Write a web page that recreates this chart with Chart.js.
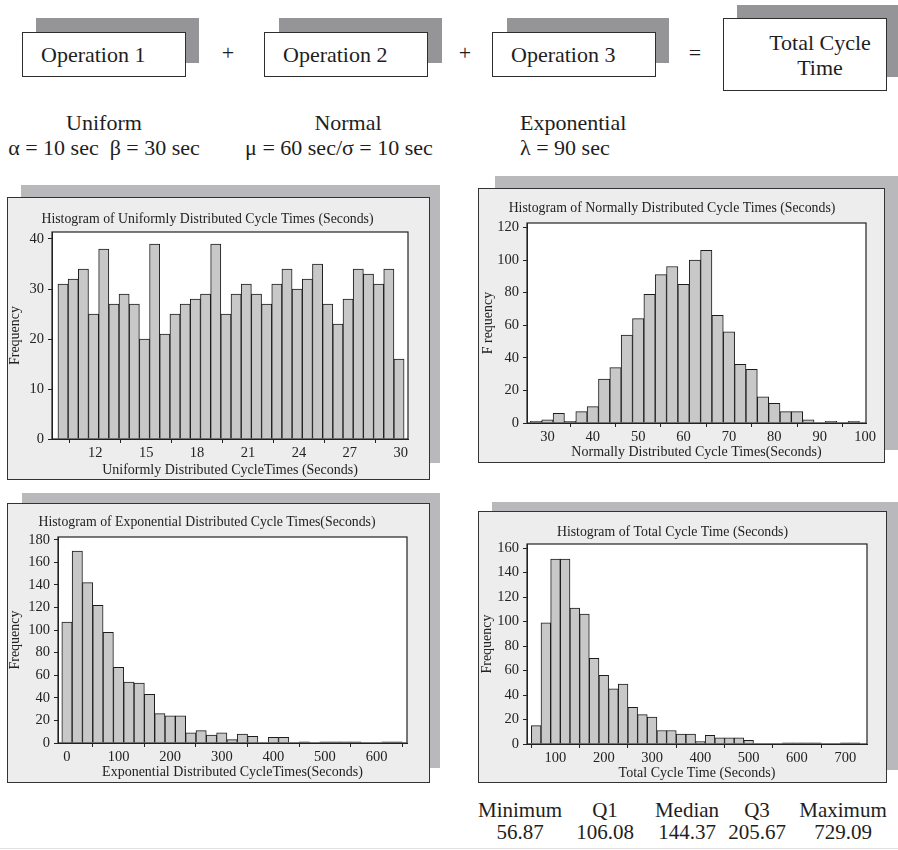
<!DOCTYPE html>
<html>
<head>
<meta charset="utf-8">
<script src="https://cdn.jsdelivr.net/npm/chart.js@4.4.1/dist/chart.umd.min.js"></script>
<style>
body { margin: 0; background: #fff; }
#page { position: relative; width: 898px; height: 850px; overflow: hidden; font-family: 'Liberation Serif', 'Times New Roman', serif; color: #1e1e1e; }
.opShadow { position: absolute; background: #959598; }
.opBox { position: absolute; background: #fff; border: 1.5px solid #2e2e2e; box-sizing: border-box; font-size: 22px; white-space: nowrap; }
.panelShadow { position: absolute; background: #b9b9bc; }
.panel { position: absolute; background: #ededed; border: 1.5px solid #333; box-sizing: border-box; }
canvas { position: absolute; }
.lbl { position: absolute; font-size: 22px; white-space: nowrap; line-height: 25px; }
.c { text-align: center; width: 240px; }
.stat { position: absolute; font-size: 21px; white-space: nowrap; width: 120px; text-align: center; line-height: 22px; }
</style>
</head>
<body>
<div id="page">
  <!-- flow boxes -->
  <div class="opShadow" style="left:36px;top:18px;width:163px;height:45px"></div>
  <div class="opBox" style="left:22px;top:32px;width:164px;height:45px;line-height:44px;padding-left:18px">Operation 1</div>
  <div class="lbl c" style="left:108px;top:40px">+</div>

  <div class="opShadow" style="left:279px;top:18px;width:163px;height:45px"></div>
  <div class="opBox" style="left:264px;top:32px;width:164px;height:45px;line-height:44px;padding-left:18px">Operation 2</div>
  <div class="lbl c" style="left:345px;top:40px">+</div>

  <div class="opShadow" style="left:507px;top:18px;width:162px;height:45px"></div>
  <div class="opBox" style="left:492px;top:32px;width:164px;height:45px;line-height:44px;padding-left:18px">Operation 3</div>
  <div class="lbl c" style="left:575px;top:40px">=</div>

  <div class="opShadow" style="left:737px;top:5px;width:161px;height:72px"></div>
  <div class="opBox" style="left:723px;top:18px;width:164px;height:73px"></div>
  <div class="lbl c" style="left:700px;top:30px">Total Cycle<br>Time</div>

  <div class="lbl c" style="left:-16px;top:110px">Uniform</div>
  <div class="lbl c" style="left:-16px;top:135px">α = 10 sec&nbsp; β = 30 sec</div>
  <div class="lbl c" style="left:228px;top:110px">Normal</div>
  <div class="lbl c" style="left:219px;top:135px">μ = 60 sec/σ = 10 sec</div>
  <div class="lbl" style="left:520px;top:110px">Exponential</div>
  <div class="lbl" style="left:520px;top:135px">λ = 90 sec</div>

  <!-- histogram panels -->
  <div class="panelShadow" style="left:21px;top:185px;width:419px;height:278px"></div>
  <div class="panel" style="left:7px;top:197px;width:423px;height:283px"></div>
  <canvas id="uniformChart" width="423" height="283" style="left:7px;top:197px"></canvas>

  <div class="panelShadow" style="left:495px;top:176px;width:403px;height:274px"></div>
  <div class="panel" style="left:478px;top:188px;width:407px;height:275px"></div>
  <canvas id="normalChart" width="407" height="275" style="left:478px;top:188px"></canvas>

  <div class="panelShadow" style="left:22px;top:493px;width:418px;height:275px"></div>
  <div class="panel" style="left:7px;top:503px;width:423px;height:280px"></div>
  <canvas id="expoChart" width="423" height="280" style="left:7px;top:503px"></canvas>

  <div class="panelShadow" style="left:492px;top:502px;width:406px;height:268px"></div>
  <div class="panel" style="left:478px;top:511px;width:409px;height:272px"></div>
  <canvas id="totalChart" width="409" height="272" style="left:478px;top:511px"></canvas>

  <div id="stats"></div>
  <div style="position:absolute;left:0;top:848px;width:898px;height:1px;background:#e2e2e2"></div>
</div>

<script>
// bin centres and counts
const uniformCenters = [10.1, 10.7, 11.3, 11.9, 12.5, 13.1, 13.7, 14.3, 14.9, 15.5, 16.1, 16.7, 17.3, 17.9, 18.5, 19.1, 19.7,
                        20.3, 20.9, 21.5, 22.1, 22.7, 23.3, 23.9, 24.5, 25.1, 25.7, 26.3, 26.9, 27.5, 28.1, 28.7, 29.3, 29.9];
const uniformFreq = [31, 32, 34, 25, 38, 27, 29, 27, 20, 39, 21, 25, 27, 28, 29, 39, 25,
                     29, 31, 29, 27, 31, 34, 30, 32, 35, 27, 23, 28, 34, 33, 31, 34, 16];
const uniformXTicks = [12, 15, 18, 21, 24, 27, 30];
const uniformYTicks = [0, 10, 20, 30, 40];

const normalCenters = [27.5, 30, 32.5, 35, 37.5, 40, 42.5, 45, 47.5, 50, 52.5, 55, 57.5, 60, 62.5,
                       65, 67.5, 70, 72.5, 75, 77.5, 80, 82.5, 85, 87.5, 90, 92.5, 95, 97.5];
const normalFreq = [1, 2, 6, 1, 7, 10, 27, 34, 54, 64, 79, 91, 96, 85, 100,
                    106, 66, 56, 36, 33, 16, 12, 7, 7, 2, 0, 1, 0, 1];
const normalXTicks = [30, 40, 50, 60, 70, 80, 90, 100];
const normalYTicks = [0, 20, 40, 60, 80, 100, 120];

const expoCenters = [0, 20, 40, 60, 80, 100, 120, 140, 160, 180, 200, 220, 240, 260, 280, 300, 320,
                     340, 360, 380, 400, 420, 440, 460, 480, 500, 520, 540, 560, 580, 600, 620, 640];
const expoFreq = [107, 170, 142, 122, 98, 67, 54, 53, 43, 26, 24, 24, 9, 11, 7, 9, 3,
                  8, 6, 0, 5, 5, 0, 1, 0, 1, 1, 1, 1, 0, 0, 1, 1];
const expoXTicks = [0, 100, 200, 300, 400, 500, 600];
const expoYTicks = [0, 20, 40, 60, 80, 100, 120, 140, 160, 180];

const totalCenters = [60, 80, 100, 120, 140, 160, 180, 200, 220, 240, 260, 280, 300, 320, 340, 360, 380,
                      400, 420, 440, 460, 480, 500, 520, 540, 560, 580, 600, 620, 640, 660, 680, 700, 720];
const totalFreq = [15, 99, 151, 151, 111, 106, 70, 56, 45, 49, 30, 24, 22, 11, 11, 8, 8,
                   2, 7, 5, 5, 5, 3, 0, 0, 0, 1, 1, 1, 1, 0, 0, 1, 1];
const totalXTicks = [100, 200, 300, 400, 500, 600, 700];
const totalYTicks = [0, 20, 40, 60, 80, 100, 120, 140, 160];

const statNames = ['Minimum', 'Q1', 'Median', 'Q3', 'Maximum'];
const statValues = ['56.87', '106.08', '144.37', '205.67', '729.09'];

const serif = "'Liberation Serif', 'Times New Roman', serif";
Chart.defaults.font.family = serif;
Chart.defaults.color = '#222';

const TITLE_SIZE = 13.8, AXIS_SIZE = 14, TICK_SIZE = 14.5;

// white plot area with a box round it
const plotFrame = {
    id: 'plotFrame',
    beforeDraw(chart) {
        const { ctx, chartArea: a } = chart;
        ctx.save();
        ctx.fillStyle = '#fff';
        ctx.fillRect(a.left, a.top, a.right - a.left, a.bottom - a.top);
        ctx.restore();
    },
    afterDraw(chart) {
        const { ctx, chartArea: a } = chart;
        ctx.save();
        ctx.strokeStyle = '#222';
        ctx.lineWidth = 1.2;
        ctx.strokeRect(a.left, a.top, a.right - a.left, a.bottom - a.top);
        ctx.restore();
    }
};

function makeHist(id, centers, freq, xTicks, yTicks, o) {
    const canvas = document.getElementById(id);
    const W = canvas.width, H = canvas.height;
    const [L, T, R, B] = o.area;
    const th = TITLE_SIZE * 0.6, ah = AXIS_SIZE * 0.6;
    const axisGrid = { display: true, drawOnChartArea: false, drawTicks: true, tickLength: 4, color: '#222' };
    return new Chart(canvas, {
        type: 'bar',
        data: {
            datasets: [{
                data: centers.map((c, i) => ({ x: c, y: freq[i] })),
                backgroundColor: '#c8c8c9',
                borderColor: '#1c1c1c',
                borderWidth: 1,
                barPercentage: 1,
                categoryPercentage: 1
            }]
        },
        options: {
            responsive: false,
            animation: false,
            layout: { padding: { left: 0, right: W - R, top: 0, bottom: 0 } },
            plugins: {
                legend: { display: false },
                tooltip: { enabled: false },
                title: {
                    display: true, text: o.title, color: '#222',
                    font: { size: TITLE_SIZE, weight: 'normal', lineHeight: 1.2 },
                    padding: { top: o.titleY - th, bottom: T - o.titleY - th }
                }
            },
            scales: {
                x: {
                    type: 'linear', offset: false, min: o.xMin, max: o.xMax,
                    afterBuildTicks: s => { s.ticks = xTicks.map(v => ({ value: v })); },
                    afterFit: s => { s.height = H - B; },
                    grid: axisGrid,
                    border: { display: true, color: '#222', width: 1 },
                    ticks: { padding: 1, autoSkip: false, maxRotation: 0, font: { size: TICK_SIZE }, color: '#222' },
                    title: { display: true, text: o.xTitle, color: '#222', font: { size: AXIS_SIZE, lineHeight: 1.2 },
                             padding: { top: 0, bottom: Math.max(0, H - o.xTitleY - ah) } }
                },
                y: {
                    min: 0, max: o.yMax,
                    afterBuildTicks: s => { s.ticks = yTicks.map(v => ({ value: v })); },
                    afterFit: s => { s.width = L; },
                    grid: axisGrid,
                    border: { display: true, color: '#222', width: 1 },
                    ticks: { padding: 4, font: { size: TICK_SIZE }, color: '#222' },
                    title: { display: true, text: o.yTitle, color: '#222', font: { size: AXIS_SIZE, lineHeight: 1.2 },
                             padding: { top: Math.max(0, o.yTitleX - ah), bottom: 0 } }
                }
            }
        },
        plugins: [plotFrame]
    });
}

makeHist('uniformChart', uniformCenters, uniformFreq, uniformXTicks, uniformYTicks, {
    area: [45, 35, 401, 242], titleY: 22, xTitleY: 273, yTitleX: 8,
    xMin: 9.45, xMax: 30.43, yMax: 41.4,
    title: 'Histogram of Uniformly Distributed Cycle Times (Seconds)',
    xTitle: 'Uniformly Distributed CycleTimes (Seconds)', yTitle: 'Frequency'
});

makeHist('normalChart', normalCenters, normalFreq, normalXTicks, normalYTicks, {
    area: [49, 35, 388, 235], titleY: 20, xTitleY: 264, yTitleX: 10,
    xMin: 25.5, xMax: 100.2, yMax: 122.7,
    title: 'Histogram of Normally Distributed Cycle Times (Seconds)',
    xTitle: 'Normally Distributed Cycle Times(Seconds)', yTitle: 'F requency'
});

makeHist('expoChart', expoCenters, expoFreq, expoXTicks, expoYTicks, {
    area: [51, 34, 400, 240], titleY: 19, xTitleY: 269, yTitleX: 7,
    xMin: -17.4, xMax: 659, yMax: 182.4,
    title: 'Histogram of Exponential Distributed Cycle Times(Seconds)',
    xTitle: 'Exponential Distributed CycleTimes(Seconds)', yTitle: 'Frequency'
});

makeHist('totalChart', totalCenters, totalFreq, totalXTicks, totalYTicks, {
    area: [49, 33, 389, 233], titleY: 21, xTitleY: 262, yTitleX: 9,
    xMin: 41, xMax: 745, yMax: 163.3,
    title: 'Histogram of Total Cycle Time (Seconds)',
    xTitle: 'Total Cycle Time (Seconds)', yTitle: 'Frequency'
});

// summary numbers under the total histogram
const statX = [520, 605, 687, 757, 843];
document.getElementById('stats').innerHTML = statNames.map((n, i) =>
    `<div class="stat" style="left:${statX[i] - 60}px;top:799px">${n}</div>` +
    `<div class="stat" style="left:${statX[i] - 60}px;top:821px">${statValues[i]}</div>`
).join('');
</script>
</body>
</html>
